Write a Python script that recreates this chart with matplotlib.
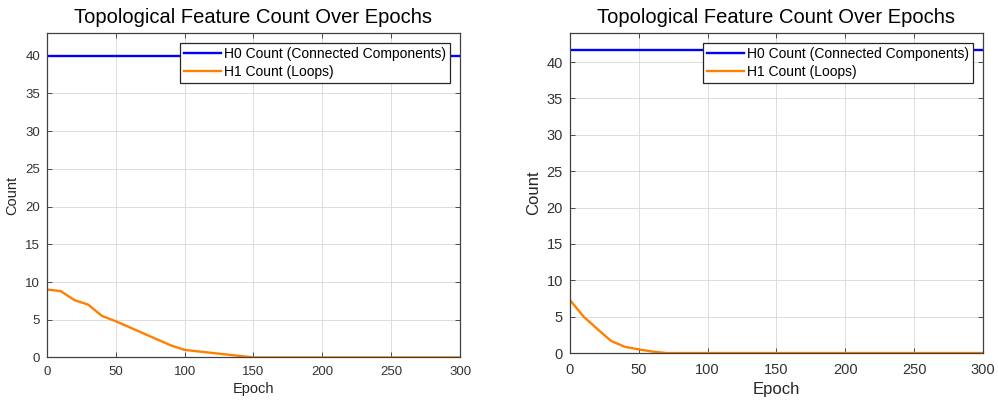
import matplotlib
matplotlib.use("Agg")
import matplotlib.pyplot as plt

# epochs sampled every 10
epochs = list(range(0, 301, 10))

# left run
h0_left = [40] * len(epochs)
h1_left = [9.0, 8.8, 7.6, 7.0, 5.5, 4.8, 4.0, 3.2, 2.4, 1.6, 1.0, 0.8, 0.6, 0.4, 0.2,
           0, 0, 0, 0, 0, 0, 0, 0, 0, 0, 0, 0, 0, 0, 0, 0]

# right run
h0_right = [41.7] * len(epochs)
h1_right = [7.3, 5.0, 3.3, 1.65, 0.85, 0.5, 0.2, 0, 0, 0, 0, 0, 0, 0, 0, 0,
            0, 0, 0, 0, 0, 0, 0, 0, 0, 0, 0, 0, 0, 0, 0]

title = "Topological Feature Count Over Epochs"
labels = ["H0 Count (Connected Components)", "H1 Count (Loops)"]

plt.rcParams['font.family'] = ['Liberation Sans', 'DejaVu Sans']

fig = plt.figure(figsize=(9.98, 4.03), dpi=100)
ax1 = fig.add_axes([0.047, 0.113, 0.414, 0.805])
ax2 = fig.add_axes([0.571, 0.124, 0.414, 0.794])

def style(ax, h0, h1, ymax, tick_fs, label_fs, xpad):
    ax.plot(epochs, h0, color="#0000ff", lw=1.7, label=labels[0])
    ax.plot(epochs, h1, color="#ff8000", lw=1.7, label=labels[1])
    ax.set_xlim(0, 300)
    ax.set_ylim(0, ymax)
    ax.set_xticks(range(0, 301, 50))
    ax.set_yticks(range(0, 41, 5))
    ax.grid(True, color="#dcdcdc", lw=0.7)
    ax.set_axisbelow(True)
    ax.tick_params(direction="in", top=True, right=True, length=3.5,
                   labelsize=tick_fs, colors="#333333", width=0.6)
    ax.tick_params(axis="x", pad=xpad)
    ax.tick_params(axis="y", pad=5)
    for s in ax.spines.values():
        s.set_color("#404040")
        s.set_linewidth(0.9)
    ax.set_title(title, fontsize=14.5, pad=7)
    ax.set_xlabel("Epoch", fontsize=label_fs, color="#262626", labelpad=3)
    ax.set_ylabel("Count", fontsize=label_fs, color="#262626", labelpad=4)
    leg = ax.legend(loc="upper right", fontsize=10, fancybox=False,
                    framealpha=1, edgecolor="#262626", handlelength=2.7,
                    borderaxespad=0.7, borderpad=0.3, labelspacing=0.3,
                    handletextpad=0.2)
    leg.get_frame().set_linewidth(0.9)

style(ax1, h0_left, h1_left, 43, 9.5, 10.5, 6)
style(ax2, h0_right, h1_right, 44, 10.5, 12, 7.5)

fig.savefig("out.png", dpi=100)
